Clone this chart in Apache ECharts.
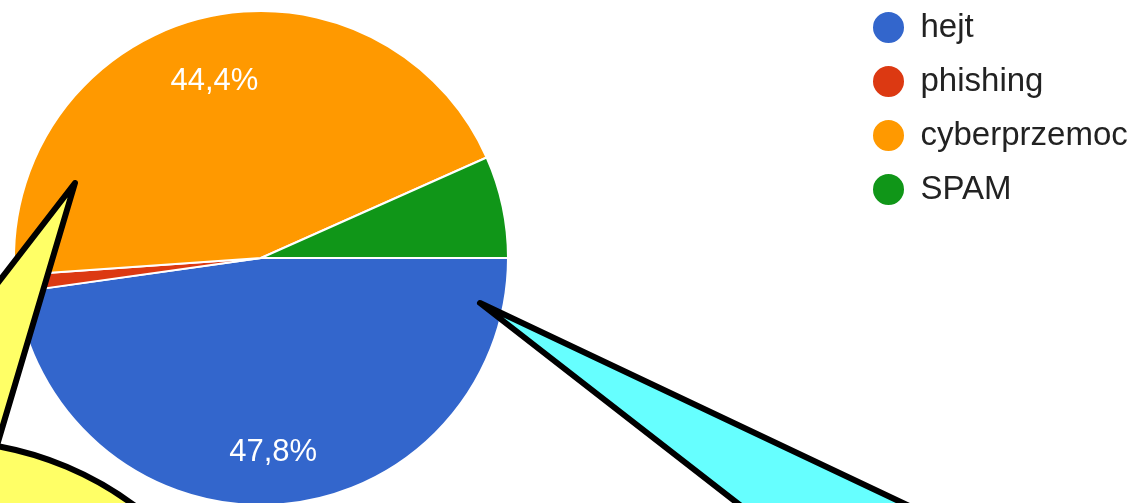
<!DOCTYPE html>
<html>
<head>
<meta charset="utf-8">
<script src="https://cdn.jsdelivr.net/npm/echarts@6/dist/echarts.min.js"></script>
<style>
html,body{margin:0;padding:0;background:#fff;}
#chart{width:1134px;height:503px;}
</style>
</head>
<body>
<div id="chart"></div>
<script>
// Data
var categories = ['hejt', 'phishing', 'cyberprzemoc', 'SPAM'];
var counts = [43, 1, 40, 6];
var colors = ['#3366cc', '#dc3912', '#ff9900', '#109618'];
var labelMinPercent = 10;

// Decorative callout outlines (annotation overlay, not data)
var yellowTip = [[75, 183], [-30, 319], [-30, 536]];
var cyanTip = [[480, 303], [1108, 600], [862, 600]];

var font = '"Liberation Sans", Arial, sans-serif';

var pieData = categories.map(function (c, i) {
  return { name: c, value: counts[i], itemStyle: { color: colors[i] } };
});
var total = counts.reduce(function (a, b) { return a + b; }, 0);
var labelData = categories.map(function (c, i) {
  return {
    name: c, value: counts[i],
    label: { show: counts[i] / total * 100 >= labelMinPercent }
  };
});

var chart = echarts.init(document.getElementById('chart'), null, { renderer: 'canvas' });
chart.setOption({
  animation: false,
  backgroundColor: '#ffffff',
  legend: {
    orient: 'vertical',
    left: 866,
    top: 5,
    icon: 'circle',
    itemWidth: 54,
    itemHeight: 33,
    itemGap: 19,
    data: categories,
    textStyle: { fontFamily: font, fontSize: 33, lineHeight: 33, color: '#222222' }
  },
  series: [
    {
      type: 'pie',
      center: [261, 258],
      radius: 247,
      startAngle: 0,
      clockwise: true,
      avoidLabelOverlap: false,
      silent: true,
      label: { show: false },
      labelLine: { show: false },
      itemStyle: { borderColor: '#ffffff', borderWidth: 2 },
      emphasis: { disabled: true },
      data: pieData
    },
    {
      type: 'pie',
      center: [261, 258],
      radius: [124, 247],
      startAngle: 0,
      clockwise: true,
      avoidLabelOverlap: false,
      silent: true,
      itemStyle: { color: 'rgba(0,0,0,0)', borderWidth: 0 },
      emphasis: { disabled: true },
      labelLine: { show: false },
      label: {
        position: 'inside',
        color: '#ffffff',
        fontFamily: font,
        fontSize: 31,
        offset: [-1, 6],
        formatter: function (p) { return p.percent.toFixed(1).replace('.', ',') + '%'; }
      },
      data: labelData
    }
  ],
  graphic: [
    {
      type: 'polygon', z: 100,
      shape: { points: yellowTip },
      style: { fill: '#ffff66', stroke: '#000000', lineWidth: 6, lineJoin: 'round' }
    },
    {
      type: 'ellipse', z: 101,
      shape: { cx: -61, cy: 769, rx: 328, ry: 328 },
      style: { fill: '#ffff66', stroke: '#000000', lineWidth: 6 }
    },
    {
      type: 'polygon', z: 100,
      shape: { points: cyanTip },
      style: { fill: '#66ffff', stroke: '#000000', lineWidth: 6, lineJoin: 'round' }
    }
  ]
});
</script>
</body>
</html>
